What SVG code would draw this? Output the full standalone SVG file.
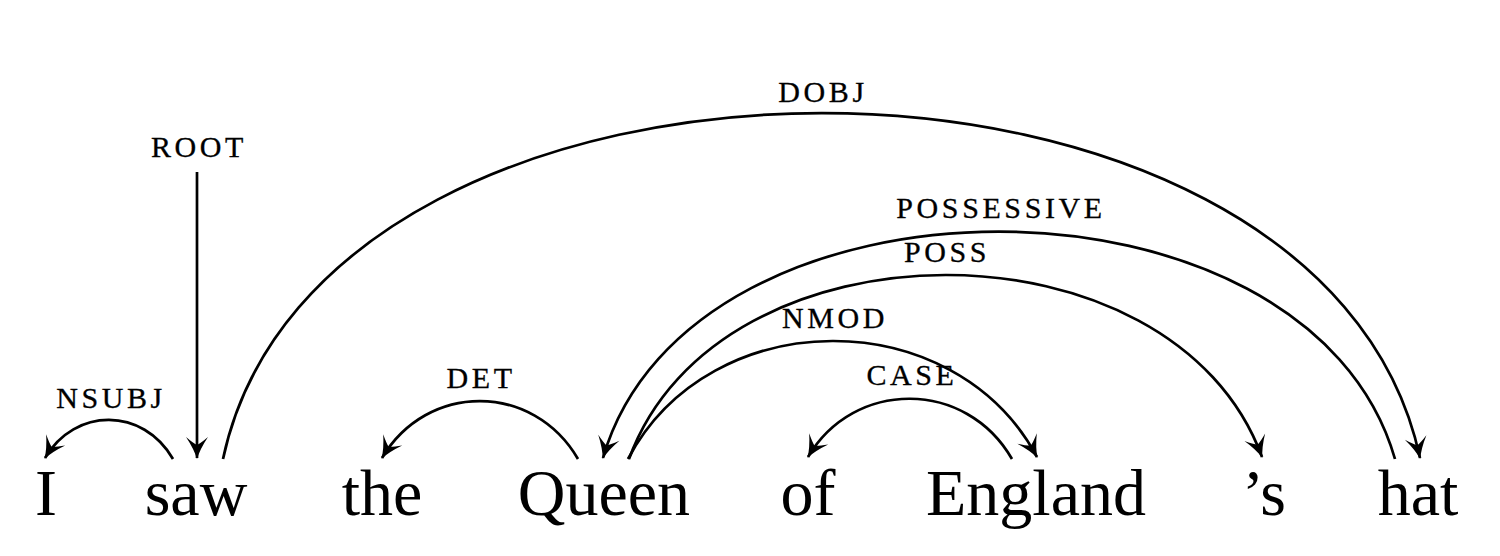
<svg xmlns="http://www.w3.org/2000/svg" width="1500" height="556" viewBox="0 0 1500 556">
<style>
.w{font-family:"Liberation Serif","Times New Roman",serif;font-size:66px;fill:#000;text-anchor:middle}
.l{font-family:"Liberation Serif","Times New Roman",serif;font-size:30px;fill:#000;stroke:#000;stroke-width:0.3;text-anchor:middle;letter-spacing:3.6px}
.e{fill:none;stroke:#000;stroke-width:2.7;marker-end:url(#ah)}
</style>
<defs>
<marker id="ah" markerUnits="userSpaceOnUse" viewBox="-23 -12 25 24" refX="0" refY="0" markerWidth="25" markerHeight="24" orient="auto" overflow="visible">
<path d="M1,0 Q-9,-3 -21,-11 Q-15,-4 -13,0 Q-15,4 -21,11 Q-9,3 1,0 Z" fill="#000"/>
</marker>
</defs>
<rect width="1500" height="556" fill="#fff"/>
<g id="connectors">
<path id="e-nsubj" class="e" d="M173,459 C143,407 75,407 45,458"/>
<path id="e-root" class="e" d="M197,172 L197,458"/>
<path id="e-dobj" class="e" d="M223,459 C321,-2 1322,-2 1420,458"/>
<path id="e-det" class="e" d="M578,459 C533,382 427,382 382,458"/>
<path id="e-possessive" class="e" d="M1395,459 C1308,156 690,156 603,458"/>
<path id="e-poss" class="e" d="M629,459 C718,214 1173,214 1262,457"/>
<path id="e-nmod" class="e" d="M628,459 C711,302 954,302 1037,457"/>
<path id="e-case" class="e" d="M1012,459 C966,379 854,379 808,457"/>
</g>
<g id="edge-labels">
<text class="l" x="111" y="408">NSUBJ</text>
<text class="l" x="199" y="157">ROOT</text>
<text class="l" x="823" y="102">DOBJ</text>
<text class="l" x="481" y="388">DET</text>
<text class="l" x="1001" y="218">POSSESSIVE</text>
<text class="l" x="947" y="262">POSS</text>
<text class="l" x="835" y="328">NMOD</text>
<text class="l" x="912" y="385">CASE</text>
</g>
<g id="w-I"><text class="w" x="46" y="515">I</text></g>
<g id="w-saw"><text class="w" x="196" y="515">saw</text></g>
<g id="w-the"><text class="w" x="382" y="515">the</text></g>
<g id="w-Queen"><text class="w" x="604" y="515">Queen</text></g>
<g id="w-of"><text class="w" x="808" y="515">of</text></g>
<g id="w-England"><text class="w" x="1036" y="515">England</text></g>
<g id="w-s"><text class="w" x="1264" y="515">’s</text></g>
<g id="w-hat"><text class="w" x="1418" y="515">hat</text></g>
</svg>
